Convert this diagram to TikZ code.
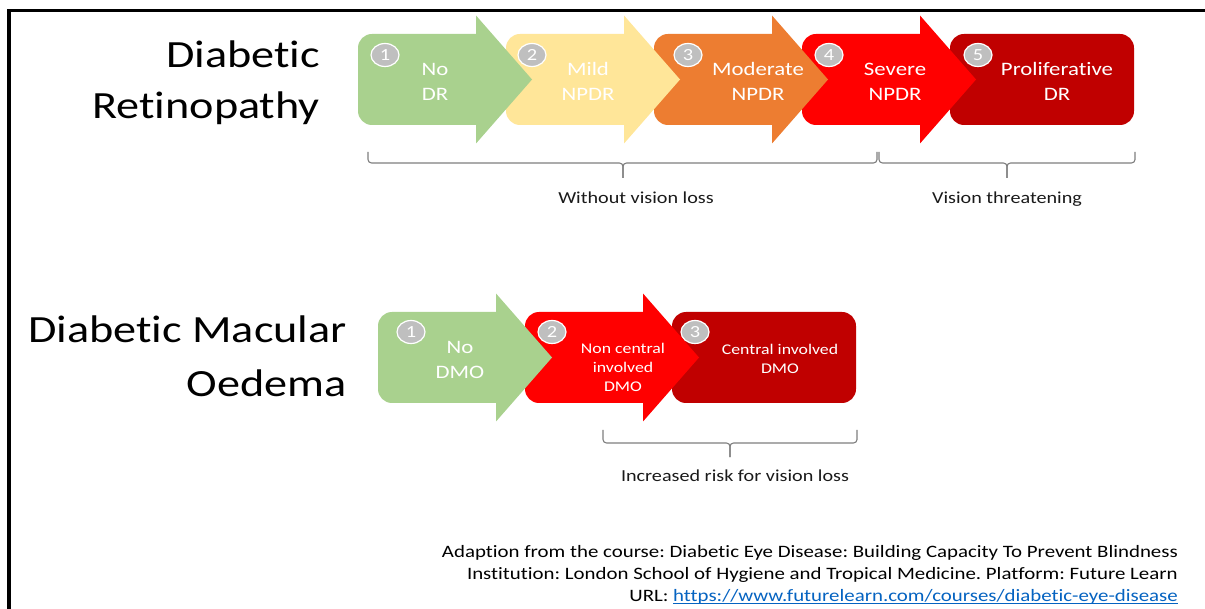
\documentclass[tikz,border=0pt]{standalone}
\usepackage{fontspec}
\setmainfont{Carlito}[FakeStretch=1.2, Ligatures=NoCommon]
\usetikzlibrary{shapes.geometric}
\frenchspacing

\definecolor{stgreen}{HTML}{A9D18E}
\definecolor{styellow}{HTML}{FFE699}
\definecolor{storange}{HTML}{ED7D31}
\definecolor{stred}{HTML}{FF0000}
\definecolor{stdarkred}{HTML}{C00000}
\definecolor{numgrey}{HTML}{BFBFBF}
\definecolor{bracegrey}{HTML}{7F7F7F}
\definecolor{linkblue}{HTML}{0563C1}
\definecolor{labelink}{HTML}{1A1A1A}

% process arrow: #1 colour, #2 left x, #3 top y of the body
\newcommand\procarrow[3]{%
  \fill[#1, rounded corners=14pt]
    (#2+60,#3) -- (#2,#3) -- (#2,#3+91) -- (#2+60,#3+91) [sharp corners]
    -- (#2+118,#3+91) -- (#2+118,#3+109.5) -- (#2+174,#3+45.5)
    -- (#2+118,#3-18.5) -- (#2+118,#3) -- cycle;}

% final stage: rounded box, #1 colour, #2 left x, #3 top y
\newcommand\procbox[3]{%
  \fill[#1, rounded corners=14pt] (#2,#3) rectangle (#2+184,#3+91);}

% grouping brace: left x, right x, tip x, end y, bar y, tip y
\newcommand\grpbrace[6]{%
  \draw[bracestroke] (#1,#4) -- (#1,#5) -- (#3,#5) -- (#3,#6);
  \draw[bracestroke] (#2,#4) -- (#2,#5) -- (#3,#5) -- (#3,#6);}

% underlined link text
\newcommand\ulink[1]{\setbox0\hbox{#1}\rlap{\rule[-2.4pt]{\wd0}{0.9pt}}\box0}

\begin{document}
\begin{tikzpicture}[x=1pt,y=-1pt,
  titletext/.style={anchor=base east, inner sep=0pt, text=black,
    font=\fontsize{38.5}{51}\selectfont},
  steplabel/.style={text=white, align=center, inner sep=0pt,
    font=\fontsize{19}{25}\selectfont},
  smalllabel/.style={text=white, align=center, inner sep=0pt,
    font=\fontsize{14.8}{19}\selectfont},
  stepnum/.style={ellipse, minimum width=28pt, minimum height=23pt,
    inner sep=0pt, fill=numgrey, draw=white, line width=1.2pt,
    text=white, font=\fontsize{17}{17}\selectfont},
  bracestroke/.style={draw=bracegrey, line width=1.1pt, rounded corners=3.5pt},
  bracelabel/.style={anchor=base, inner sep=0pt, text=labelink,
    font=\fontsize{16.8}{20}\selectfont},
  sourcetext/.style={anchor=base east, inner sep=0pt, text=black,
    font=\fontsize{17.4}{22}\selectfont}]

\useasboundingbox (0,0) rectangle (1205,609);
\fill[white] (0,0) rectangle (1205,609);

% frame
\draw[line width=3.5pt, line cap=rect] (9,612) -- (9,10.5) -- (1208,10.5);

% ---- Diabetic Retinopathy ----
\node[titletext] (drA) at (320,68) {Diabetic};
\node[titletext] (drB) at (320,119) {Retinopathy};

\procbox{stdarkred}{950}{34}
\procarrow{stred}{802}{34}
\procarrow{storange}{654}{34}
\procarrow{styellow}{506}{34}
\procarrow{stgreen}{358}{34}

\node[steplabel] (dr1) at (435,81.5) {No\\DR};
\node[steplabel] (dr2) at (588,81.5) {Mild\\NPDR};
\node[steplabel] (dr3) at (758,81.5) {Moderate\\NPDR};
\node[steplabel] (dr4) at (895,81.5) {Severe\\NPDR};
\node[steplabel] (dr5) at (1057,81.5) {Proliferative\\DR};

\node[stepnum] (drn1) at (385,55) {1};
\node[stepnum] (drn2) at (532,55) {2};
\node[stepnum] (drn3) at (688,55) {3};
\node[stepnum] (drn4) at (829,55) {4};
\node[stepnum] (drn5) at (978,55) {5};

\grpbrace{368}{877}{623}{152}{163}{178}
\grpbrace{879}{1135}{1007}{152}{163}{178}
\node[bracelabel] (drg1) at (636,204) {Without vision loss};
\node[bracelabel] (drg2) at (1007,204) {Vision threatening};

% ---- Diabetic Macular Oedema ----
\node[titletext] (dmA) at (347,343) {Diabetic Macular};
\node[titletext] (dmB) at (347,397) {Oedema};

\procbox{stdarkred}{672}{312}
\procarrow{stred}{525}{312}
\procarrow{stgreen}{378}{312}

\node[steplabel] (dm1) at (460,360) {No\\DMO};
\node[smalllabel] (dm2) at (623,367) {Non central\\involved\\DMO};
\node[smalllabel] (dm3) at (780,358.5) {Central involved\\DMO};

\node[stepnum] (dmn1) at (411,332) {1};
\node[stepnum] (dmn2) at (552,332) {2};
\node[stepnum] (dmn3) at (695,332) {3};

\grpbrace{603}{857}{730}{430}{443}{457}
\node[bracelabel] (dmg1) at (735,481) {Increased risk for vision loss};

% ---- source ----
\node[sourcetext] (src1) at (1178,557) {Adaption from the course: Diabetic Eye Disease: Building Capacity To Prevent Blindness};
\node[sourcetext] (src2) at (1178,579) {Institution: London School of Hygiene and Tropical Medicine. Platform: Future Learn};
\node[sourcetext] (src3) at (1178,601) {URL: \textcolor{linkblue}{\ulink{https://www.futurelearn.com/courses/diabetic-eye-disease}}};
\end{tikzpicture}
\end{document}
